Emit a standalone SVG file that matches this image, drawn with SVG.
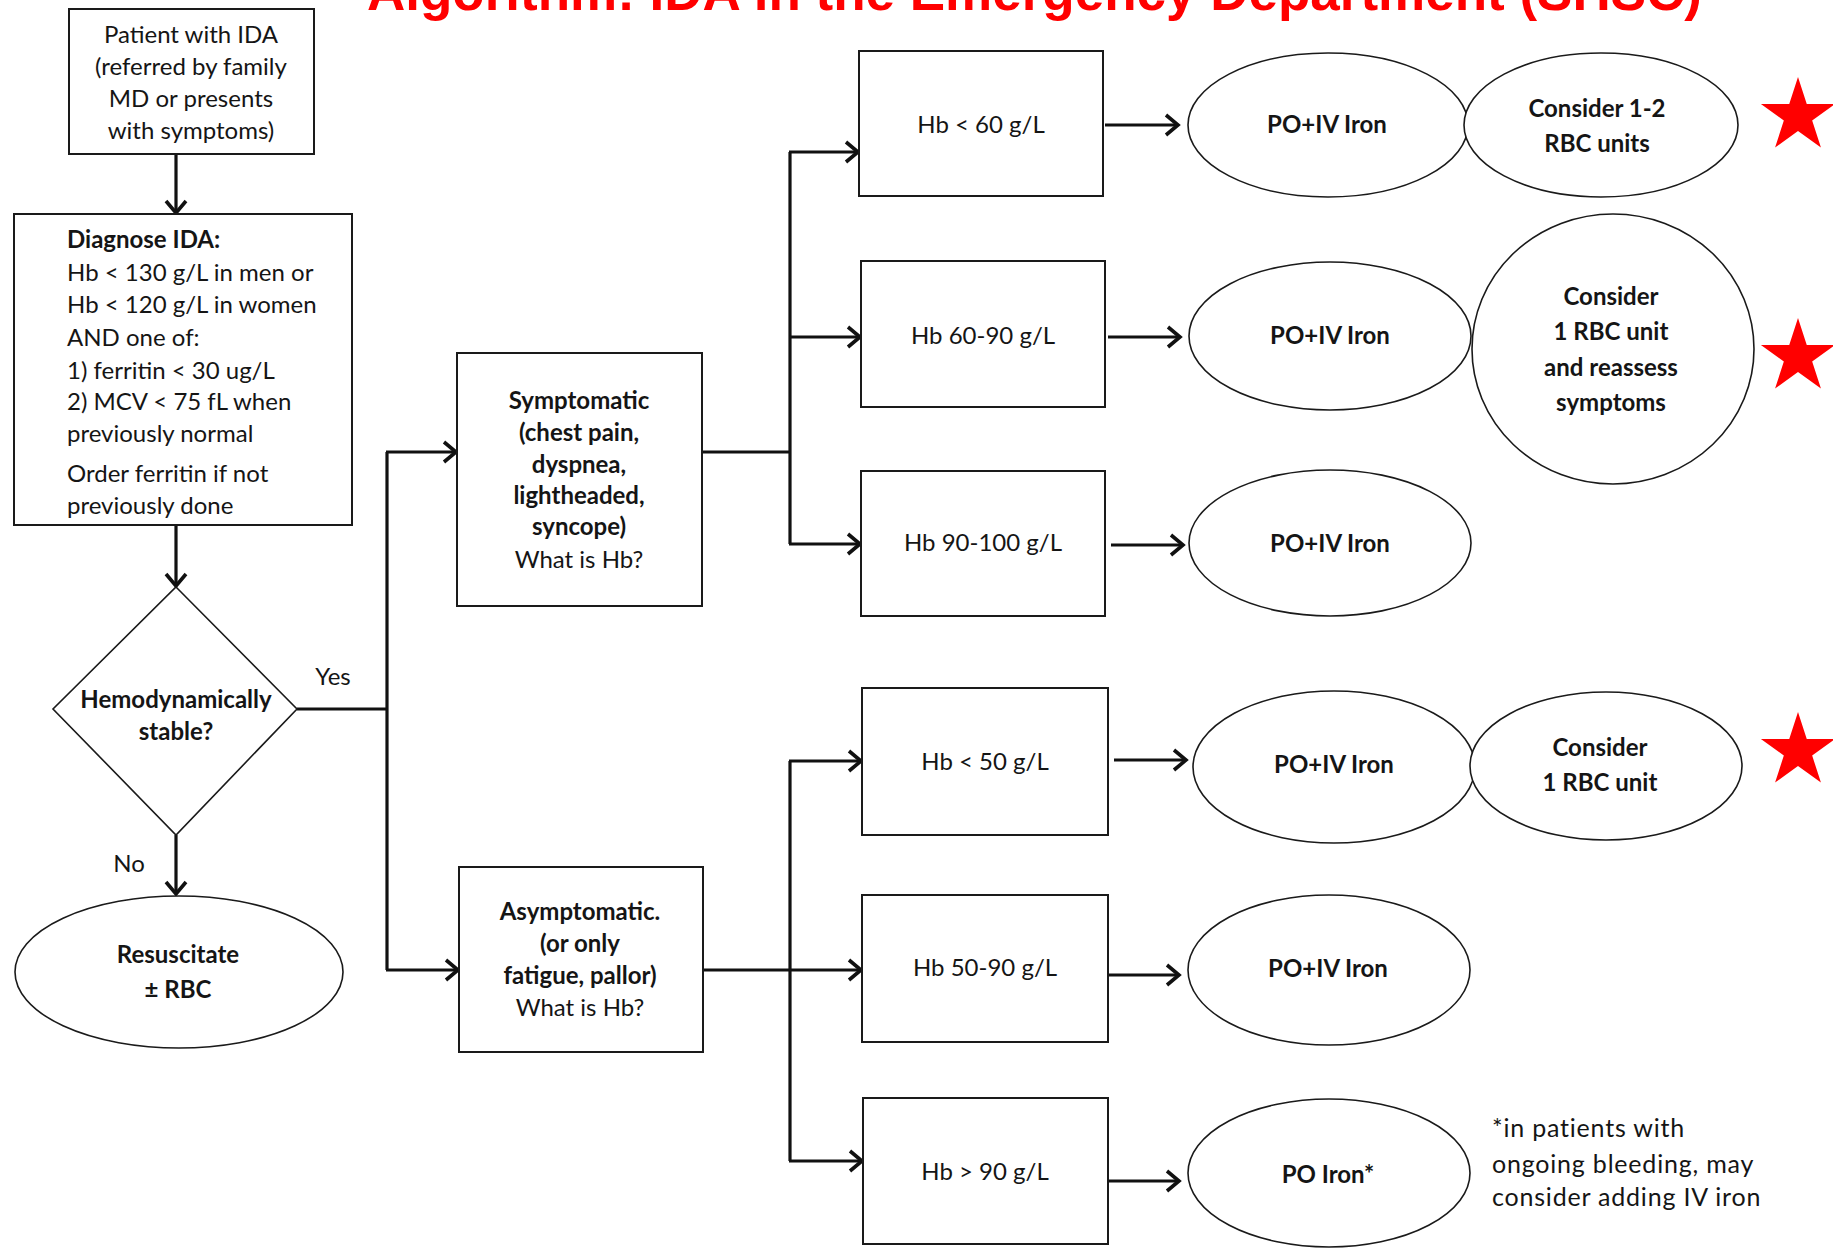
<svg xmlns="http://www.w3.org/2000/svg" width="1833" height="1249" viewBox="0 0 1833 1249">
<style>
.t{font-family:Lato,"Liberation Sans",sans-serif;font-size:24px;fill:#151515}
.b{font-weight:bold}
.c{text-anchor:middle}
.fn{font-size:25px;letter-spacing:0.8px}
.box{fill:#fff;stroke:#1a1a1a;stroke-width:2}
.ell{fill:#fff;stroke:#1a1a1a;stroke-width:1.6}
.ln{fill:none;stroke:#111;stroke-width:3.2}
.title{font-family:"Liberation Sans",Arial,sans-serif;font-size:53px;font-weight:bold;fill:#ff0000}
</style>
<defs>
<marker id="ah" markerUnits="userSpaceOnUse" markerWidth="18" markerHeight="24" refX="14" refY="12" orient="auto">
<path d="M2,2 L14,12 L2,22" fill="none" stroke="#111" stroke-width="3.6"/>
</marker>
<polygon id="star" points="0,-39 8.76,-12.05 37.09,-12.05 14.17,4.6 22.92,31.55 0,14.9 -22.92,31.55 -14.17,4.6 -37.09,-12.05 -8.76,-12.05" fill="#ff0000"/>
</defs>
<rect width="1833" height="1249" fill="#fff"/>
<text class="title" x="367" y="10">Algorithm: IDA in the Emergency Department (SHSC)</text>

<g id="connectors">
<line class="ln" x1="176" y1="154" x2="176" y2="213" marker-end="url(#ah)"/>
<line class="ln" x1="176" y1="525" x2="176" y2="586" marker-end="url(#ah)"/>
<line class="ln" x1="176" y1="835" x2="176" y2="894" marker-end="url(#ah)"/>
<polyline class="ln" points="297,709 387,709"/>
<line class="ln" x1="387" y1="452" x2="387" y2="970"/>
<line class="ln" x1="386" y1="452" x2="456" y2="452" marker-end="url(#ah)"/>
<line class="ln" x1="386" y1="970" x2="458" y2="970" marker-end="url(#ah)"/>
<line class="ln" x1="702" y1="452" x2="790" y2="452"/>
<line class="ln" x1="790" y1="152" x2="790" y2="544"/>
<line class="ln" x1="789" y1="152" x2="858" y2="152" marker-end="url(#ah)"/>
<line class="ln" x1="789" y1="337" x2="860" y2="337" marker-end="url(#ah)"/>
<line class="ln" x1="789" y1="544" x2="860" y2="544" marker-end="url(#ah)"/>
<line class="ln" x1="703" y1="970" x2="861" y2="970" marker-end="url(#ah)"/>
<line class="ln" x1="790" y1="761" x2="790" y2="1161"/>
<line class="ln" x1="789" y1="761" x2="861" y2="761" marker-end="url(#ah)"/>
<line class="ln" x1="789" y1="1161" x2="862" y2="1161" marker-end="url(#ah)"/>
<line class="ln" x1="1105" y1="125" x2="1178" y2="125" marker-end="url(#ah)"/>
<line class="ln" x1="1108" y1="337" x2="1180" y2="337" marker-end="url(#ah)"/>
<line class="ln" x1="1111" y1="545" x2="1183" y2="545" marker-end="url(#ah)"/>
<line class="ln" x1="1114" y1="760" x2="1186" y2="760" marker-end="url(#ah)"/>
<line class="ln" x1="1108" y1="975" x2="1179" y2="975" marker-end="url(#ah)"/>
<line class="ln" x1="1108" y1="1181" x2="1179" y2="1181" marker-end="url(#ah)"/>
</g>

<g id="patient">
<rect class="box" x="69" y="9" width="245" height="145"/>
<text class="t c" x="191" y="43">Patient with IDA</text>
<text class="t c" x="191" y="75">(referred by family</text>
<text class="t c" x="191" y="107">MD or presents</text>
<text class="t c" x="191" y="139">with symptoms)</text>
</g>

<g id="diagnose">
<rect class="box" x="14" y="214" width="338" height="311"/>
<text class="t b" x="67" y="248">Diagnose IDA:</text>
<text class="t" x="67" y="281">Hb &lt; 130 g/L in men or</text>
<text class="t" x="67" y="313">Hb &lt; 120 g/L in women</text>
<text class="t" x="67" y="346">AND one of:</text>
<text class="t" x="67" y="379">1) ferritin &lt; 30 ug/L</text>
<text class="t" x="67" y="410">2) MCV &lt; 75 fL when</text>
<text class="t" x="67" y="442">previously normal</text>
<text class="t" x="67" y="482">Order ferritin if not</text>
<text class="t" x="67" y="514">previously done</text>
</g>

<g id="stable">
<polygon class="ell" points="176,587 297,709 176,835 53,709"/>
<text class="t b c" x="176" y="708">Hemodynamically</text>
<text class="t b c" x="176" y="740">stable?</text>
</g>
<text class="t c" x="333" y="685">Yes</text>
<text class="t c" x="129" y="872">No</text>

<g id="resuscitate">
<ellipse class="ell" cx="179" cy="972" rx="164" ry="76"/>
<text class="t b c" x="178" y="963">Resuscitate</text>
<text class="t b c" x="178" y="998">± RBC</text>
</g>

<g id="symptomatic">
<rect class="box" x="457" y="353" width="245" height="253"/>
<text class="t b c" x="579" y="409">Symptomatic</text>
<text class="t b c" x="579" y="441">(chest pain,</text>
<text class="t b c" x="579" y="473">dyspnea,</text>
<text class="t b c" x="579" y="504">lightheaded,</text>
<text class="t b c" x="579" y="535">syncope)</text>
<text class="t c" x="579" y="568">What is Hb?</text>
</g>

<g id="asymptomatic">
<rect class="box" x="459" y="867" width="244" height="185"/>
<text class="t b c" x="580" y="920">Asymptomatic.</text>
<text class="t b c" x="580" y="952">(or only</text>
<text class="t b c" x="580" y="984">fatigue, pallor)</text>
<text class="t c" x="580" y="1016">What is Hb?</text>
</g>

<g id="hb-lt60">
<rect class="box" x="859" y="51" width="244" height="145"/>
<text class="t c" x="981" y="133">Hb &lt; 60 g/L</text>
</g>
<g id="hb-60-90">
<rect class="box" x="861" y="261" width="244" height="146"/>
<text class="t c" x="983" y="344">Hb 60-90 g/L</text>
</g>
<g id="hb-90-100">
<rect class="box" x="861" y="471" width="244" height="145"/>
<text class="t c" x="983" y="551">Hb 90-100 g/L</text>
</g>
<g id="hb-lt50">
<rect class="box" x="862" y="688" width="246" height="147"/>
<text class="t c" x="985" y="770">Hb &lt; 50 g/L</text>
</g>
<g id="hb-50-90">
<rect class="box" x="862" y="895" width="246" height="147"/>
<text class="t c" x="985" y="976">Hb 50-90 g/L</text>
</g>
<g id="hb-gt90">
<rect class="box" x="863" y="1098" width="245" height="146"/>
<text class="t c" x="985" y="1180">Hb &gt; 90 g/L</text>
</g>

<g id="iron1">
<ellipse class="ell" cx="1328" cy="125" rx="140" ry="72"/>
<text class="t b c" x="1327" y="133">PO+IV Iron</text>
</g>
<g id="rbc12">
<ellipse class="ell" cx="1601" cy="125" rx="137" ry="72"/>
<text class="t b c" x="1597" y="117">Consider 1-2</text>
<text class="t b c" x="1597" y="152">RBC units</text>
</g>
<g id="iron2">
<ellipse class="ell" cx="1330" cy="336" rx="141" ry="74"/>
<text class="t b c" x="1330" y="344">PO+IV Iron</text>
</g>
<g id="rbc1-reassess">
<ellipse class="ell" cx="1613" cy="349" rx="141" ry="135"/>
<text class="t b c" x="1611" y="305">Consider</text>
<text class="t b c" x="1611" y="340">1 RBC unit</text>
<text class="t b c" x="1611" y="376">and reassess</text>
<text class="t b c" x="1611" y="411">symptoms</text>
</g>
<g id="iron3">
<ellipse class="ell" cx="1330" cy="543" rx="141" ry="73"/>
<text class="t b c" x="1330" y="552">PO+IV Iron</text>
</g>
<g id="iron4">
<ellipse class="ell" cx="1334" cy="767" rx="141" ry="76"/>
<text class="t b c" x="1334" y="773">PO+IV Iron</text>
</g>
<g id="rbc1">
<ellipse class="ell" cx="1606" cy="766" rx="136" ry="74"/>
<text class="t b c" x="1600" y="756">Consider</text>
<text class="t b c" x="1600" y="791">1 RBC unit</text>
</g>
<g id="iron5">
<ellipse class="ell" cx="1329" cy="970" rx="141" ry="75"/>
<text class="t b c" x="1328" y="977">PO+IV Iron</text>
</g>
<g id="po-iron">
<ellipse class="ell" cx="1329" cy="1173" rx="141" ry="74"/>
<text class="t b c" x="1328" y="1183">PO Iron*</text>
</g>

<g id="footnote">
<text class="t fn" x="1492" y="1137">*in patients with</text>
<text class="t fn" x="1492" y="1173">ongoing bleeding, may</text>
<text class="t fn" x="1492" y="1206">consider adding IV iron</text>
</g>

<g id="stars">
<use href="#star" x="1798" y="116"/>
<use href="#star" x="1798" y="357"/>
<use href="#star" x="1798" y="751"/>
</g>
</svg>
